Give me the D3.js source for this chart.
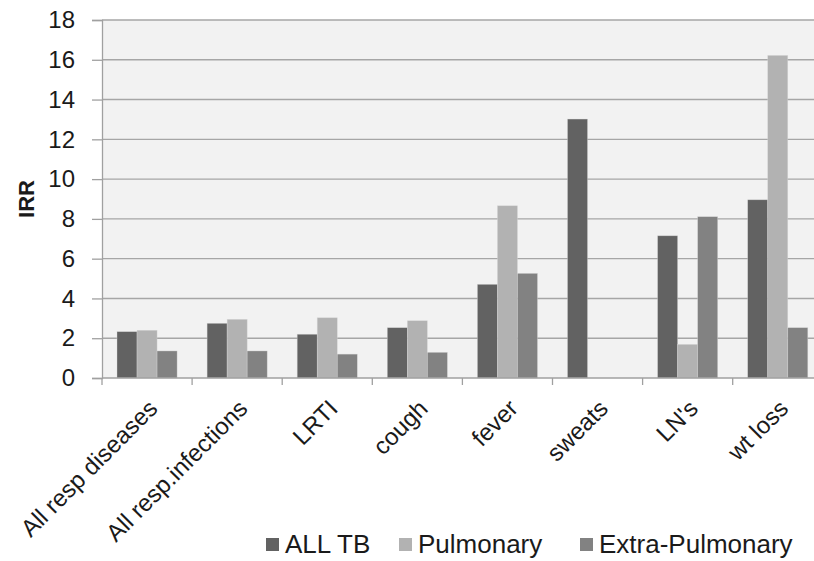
<!DOCTYPE html>
<html lang="en">
  <head>
    <meta charset="UTF-8" />
    <title>IRR</title>
    <script src="https://cdn.jsdelivr.net/npm/d3@7"></script>
    <style>
      body { margin: 0; background: #fff; }
      text { font-family: "Liberation Sans", Arial, sans-serif; fill: #1a1a1a; }
    </style>
  </head>
  <body>
    <svg width="814" height="561"></svg>
  </body>

  <script>
    var categories = ['All resp diseases', 'All resp.infections', 'LRTI', 'cough', 'fever', 'sweats', "LN's", 'wt loss'];
    var series = ['ALL TB', 'Pulmonary', 'Extra-Pulmonary'];
    var allTB = [2.33, 2.75, 2.2, 2.53, 4.71, 13.02, 7.15, 8.96];
    var pulmonary = [2.4, 2.95, 3.03, 2.88, 8.66, 0, 1.69, 16.22];
    var extraPulmonary = [1.36, 1.36, 1.2, 1.29, 5.26, 0, 8.11, 2.53];
    var yTicks = [0, 2, 4, 6, 8, 10, 12, 14, 16, 18];
    var colors = ['#626262', '#b2b2b2', '#828282'];

    var values = [allTB, pulmonary, extraPulmonary];

    var svg = d3.select('svg');
    var plotLeft = 102, plotTop = 20, plotBottom = 378;
    var step = 90.1;

    // scales
    var x = d3.scaleBand().domain(categories).range([plotLeft, plotLeft + step * categories.length]);
    var x1 = d3.scaleBand().domain(series).range([15, step - 15]);
    var y = d3.scaleLinear().domain([0, 18]).range([plotBottom, plotTop]);

    // plot background
    svg.append('rect')
      .attr('x', plotLeft).attr('y', plotTop)
      .attr('width', 814 - plotLeft).attr('height', plotBottom - plotTop)
      .attr('fill', '#f2f2f2');

    // gridlines
    svg.append('g').selectAll('line').data(yTicks.slice(1)).enter().append('line')
      .attr('x1', plotLeft).attr('x2', 814)
      .attr('y1', function (d) { return y(d); })
      .attr('y2', function (d) { return y(d); })
      .attr('stroke', '#a6a6a6').attr('stroke-width', 1.4);

    // bars
    var gs = svg.append('g').selectAll('g').data(categories).enter().append('g')
      .attr('transform', function (d) { return 'translate(' + x(d) + ',0)'; });
    gs.selectAll('rect')
      .data(function (d, i) {
        return series.map(function (s, k) { return { s: s, k: k, v: values[k][i] }; });
      })
      .enter().append('rect')
      .filter(function (d) { return d.v > 0; })
      .attr('x', function (d) { return x1(d.s); })
      .attr('y', function (d) { return y(d.v); })
      .attr('width', x1.bandwidth())
      .attr('height', function (d) { return y(0) - y(d.v); })
      .attr('fill', function (d) { return colors[d.k]; })
      .attr('stroke', '#d8d8d8').attr('stroke-width', 0.6).attr('stroke-opacity', 0.6);

    // y axis
    var axisY = d3.axisLeft(y).tickValues(yTicks).tickSize(10).tickPadding(17);
    var gy = svg.append('g').attr('transform', 'translate(' + plotLeft + ',0)').call(axisY);
    gy.select('.domain').attr('stroke', '#a0a0a0').attr('stroke-width', 1.3);
    gy.selectAll('.tick line').attr('stroke', '#a0a0a0').attr('stroke-width', 1.3);
    gy.selectAll('.tick text')
      .style('font-family', '"Liberation Sans", Arial, sans-serif')
      .style('font-size', '24px').attr('fill', '#1a1a1a');

    // x axis line and ticks at band edges
    svg.append('line')
      .attr('x1', plotLeft).attr('x2', 814).attr('y1', plotBottom).attr('y2', plotBottom)
      .attr('stroke', '#a0a0a0').attr('stroke-width', 1.3);
    svg.append('g').selectAll('line').data(categories).enter().append('line')
      .attr('x1', function (d) { return x(d); })
      .attr('x2', function (d) { return x(d); })
      .attr('y1', plotBottom).attr('y2', plotBottom + 7)
      .attr('stroke', '#a0a0a0').attr('stroke-width', 1.3);

    // category labels
    svg.append('g').selectAll('text').data(categories).enter().append('text')
      .attr('transform', function (d) {
        return 'translate(' + (x(d) + x.bandwidth() / 2 + 6) + ',404) rotate(-45)';
      })
      .attr('text-anchor', 'end')
      .attr('dy', '0.35em')
      .style('font-size', '24px')
      .text(function (d) { return d; });

    // y title
    svg.append('text')
      .attr('transform', 'translate(26,199) rotate(-90)')
      .attr('text-anchor', 'middle')
      .attr('dy', '0.35em')
      .style('font-size', '22px').style('font-weight', 'bold')
      .text('IRR');

    // legend
    var legendX = [266, 399, 580];
    var lg = svg.append('g').selectAll('g').data(series).enter().append('g')
      .attr('transform', function (d, i) { return 'translate(' + legendX[i] + ',538)'; });
    lg.append('rect').attr('width', 13).attr('height', 13)
      .attr('fill', function (d, i) { return colors[i]; });
    lg.append('text').attr('x', 19).attr('y', 15)
      .style('font-size', '26px')
      .text(function (d) { return d; });
  </script>
</html>
